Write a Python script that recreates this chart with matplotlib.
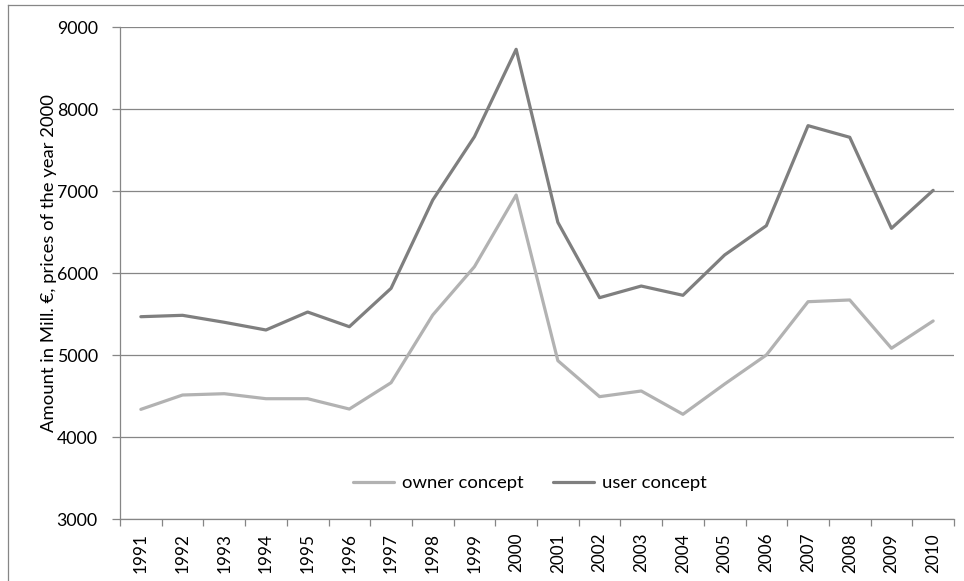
import matplotlib.pyplot as plt
from matplotlib.lines import Line2D

plt.rcParams['font.family'] = ['Lato', 'DejaVu Sans']

years = [str(y) for y in range(1991, 2011)]
owner = [4337, 4512, 4528, 4467, 4467, 4341, 4662, 5488, 6077, 6951,
         4931, 4492, 4561, 4277, 4646, 5000, 5650, 5671, 5082, 5415]
user = [5467, 5484, 5399, 5305, 5524, 5345, 5813, 6890, 7662, 8728,
        6618, 5699, 5841, 5728, 6220, 6577, 7797, 7655, 6545, 7008]
yticks = [3000, 4000, 5000, 6000, 7000, 8000, 9000]

W, H = 964, 581
fig = plt.figure(figsize=(W / 100, H / 100), dpi=100)
ax = fig.add_axes([120 / W, 1 - 519 / H, 834 / W, 492 / H])

grey = '#868686'
x = list(range(len(years)))
ax.plot(x, owner, color='#b2b2b2', linewidth=2.3, label='owner concept', solid_capstyle='round')
ax.plot(x, user, color='#7f7f7f', linewidth=2.3, label='user concept', solid_capstyle='round')

ax.set_xlim(-0.5, len(years) - 0.5)
ax.set_ylim(3000, 9000)
ax.set_yticks(yticks)
ax.set_yticklabels([str(v) for v in yticks], fontsize=12.8)
ax.yaxis.grid(True, color=grey, linewidth=0.9)
ax.set_axisbelow(True)

ax.set_xticks(x)
ax.set_xticklabels(years, rotation=90, fontsize=12.3)
ax.set_xticks([i - 0.5 for i in range(len(years) + 1)], minor=True)
ax.tick_params(axis='x', which='major', length=0, pad=10)
ax.tick_params(axis='x', which='minor', length=5, color=grey, width=0.9)
ax.tick_params(axis='y', length=6, color=grey, width=0.9, pad=10)

for side in ['top', 'right']:
    ax.spines[side].set_visible(False)
for side in ['left', 'bottom']:
    ax.spines[side].set_color(grey)
    ax.spines[side].set_linewidth(0.9)

ax.set_ylabel('Amount in Mill. €, prices of the year 2000', fontsize=13.3)
ax.yaxis.set_label_coords(-0.076, 0.52)

ax.legend(loc='center', bbox_to_anchor=(0.4916, 0.073), ncol=2, frameon=False,
          fontsize=13.3, handlelength=2.2, columnspacing=1.6, handletextpad=0.45)

# outer chart frame (only left and top edges visible)
fig.add_artist(Line2D([8 / W, 8 / W], [0, 1 - 5 / H], color=grey, linewidth=0.9))
fig.add_artist(Line2D([8 / W, 1], [1 - 5 / H, 1 - 5 / H], color=grey, linewidth=0.9))

fig.savefig('out.png', dpi=100)
